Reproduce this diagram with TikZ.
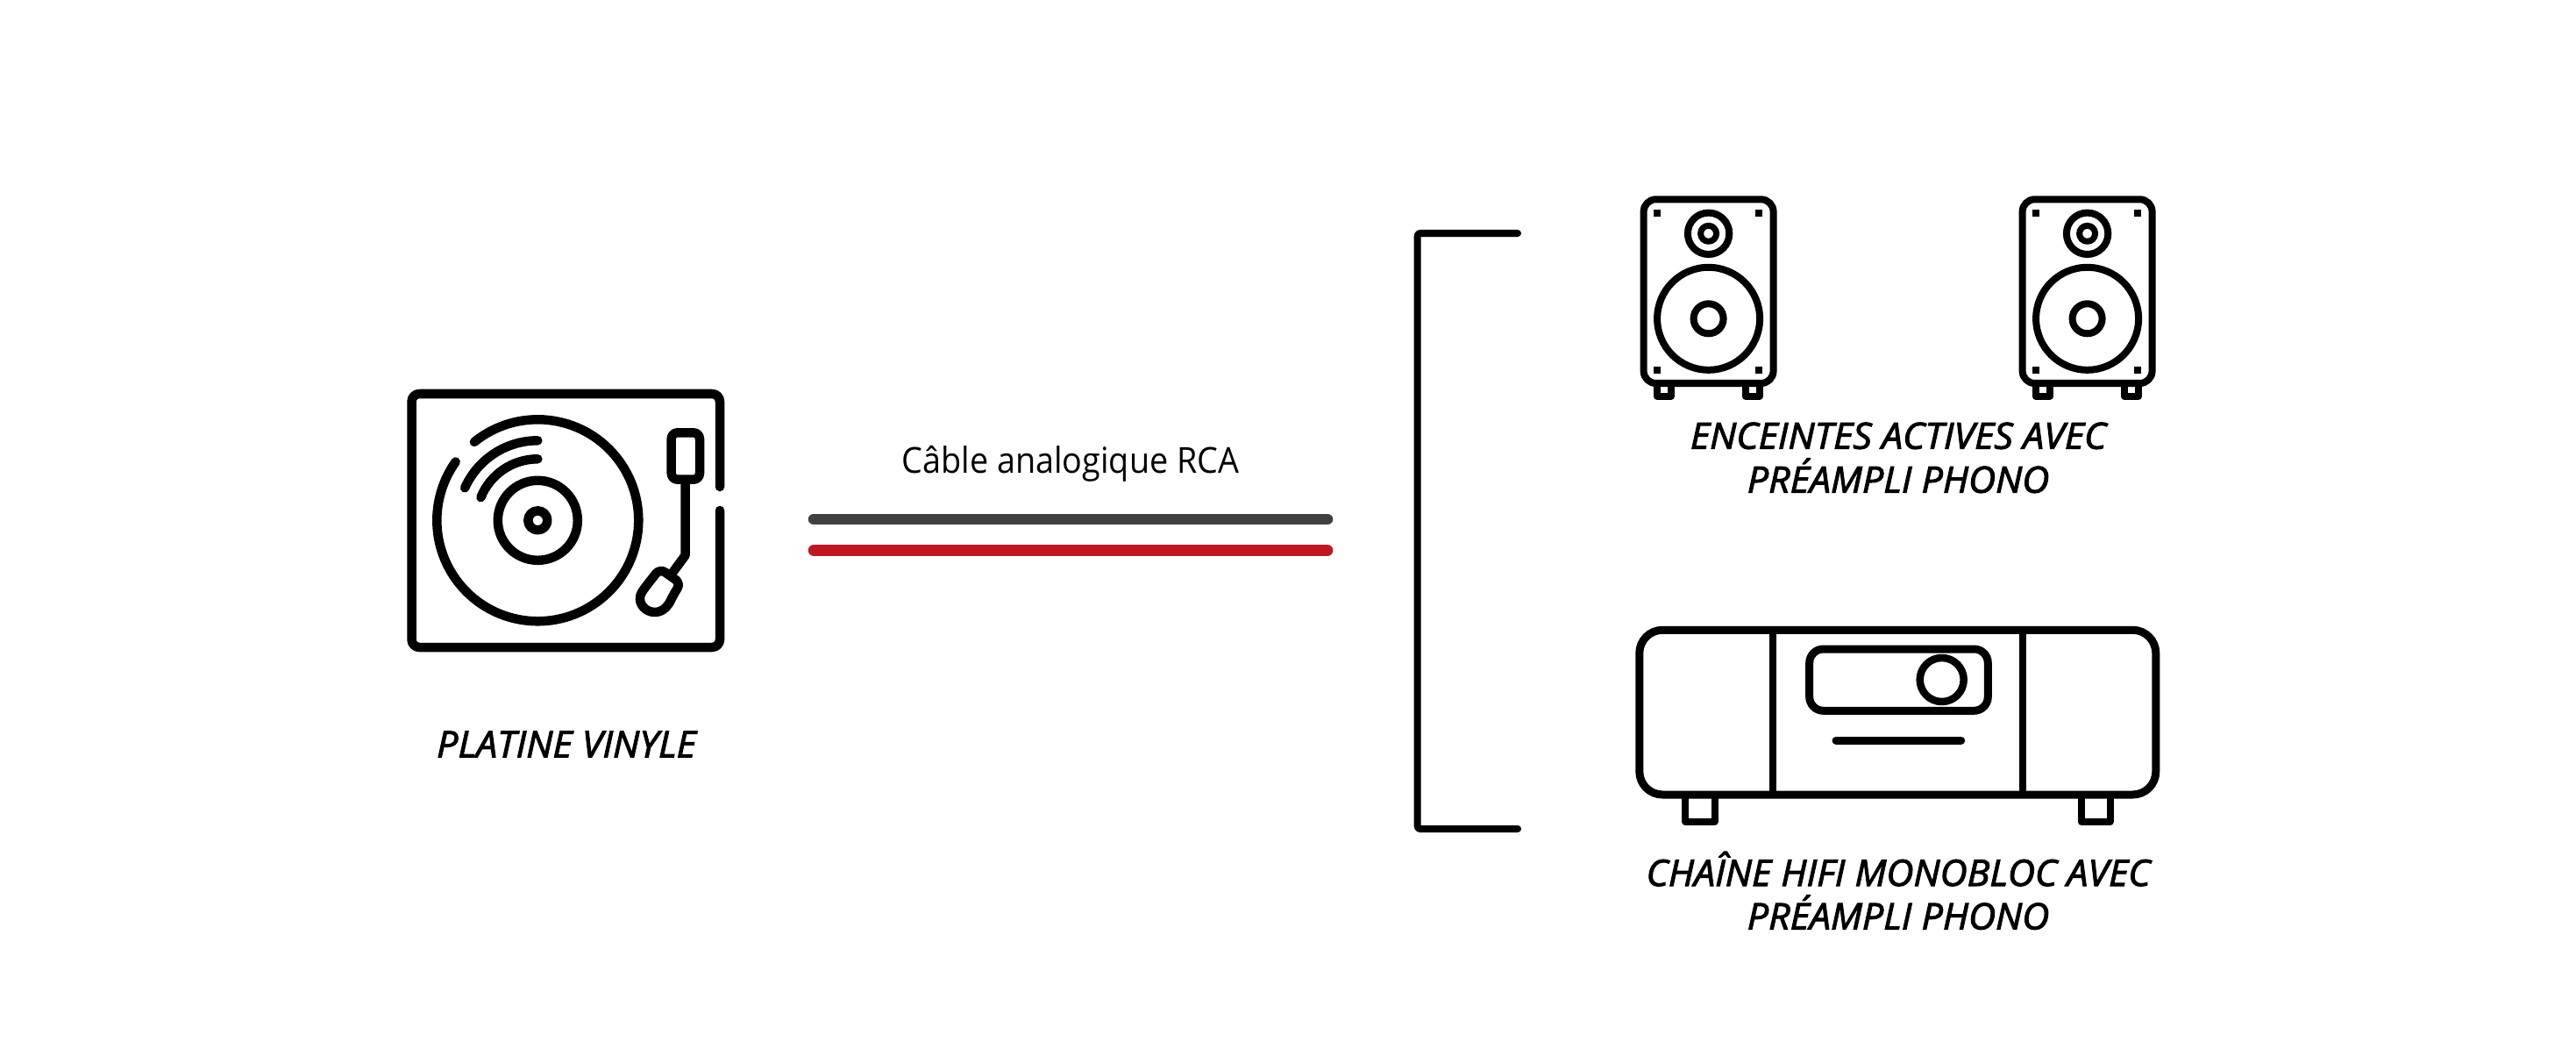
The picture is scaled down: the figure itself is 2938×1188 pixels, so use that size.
\documentclass[tikz,border=0pt]{standalone}
\usepackage{fontspec}
\setmainfont{Open Sans}
\newfontfamily\lblfont[FakeStretch=0.925]{Open Sans}
\newfontfamily\capfont[ItalicFeatures={FakeBold=2.4,FakeStretch=1.035}]{Open Sans}
\definecolor{cabledark}{HTML}{404040}
\definecolor{cablered}{HTML}{BE1823}
\tikzset{
  x=0.01cm,y=-0.01cm,
  w/.style={line width=#1*0.2845pt},
  ink/.style={draw=black,w=#1,line join=round},
  ink/.default=10.5,
  roundline/.style={ink=#1,line cap=round},
  roundline/.default=10.5,
  cable/.style={w=12.5,line cap=round},
  captxt/.style={anchor=base,inner sep=0pt,font=\capfont\itshape\fontsize{11.8pt}{14pt}\selectfont,text=black},
  cabletxt/.style={anchor=base,inner sep=0pt,font=\lblfont\fontsize{11.6pt}{14pt}\selectfont,text=black},
  speaker/.pic={
    \draw[ink=8,rounded corners=4pt] (-74,-136) rectangle (74,73.7);
    \draw[ink=8] (0,-97) circle[radius=23.7];
    \draw[ink=7] (0,-97) circle[radius=9];
    \draw[ink=8] (0,0) circle[radius=58.5];
    \draw[ink=8] (0,0) circle[radius=17];
    \foreach \sx in {-58.4,57.4}\foreach \sy in {-120.3,58.4}
      \fill[black] (\sx-4,\sy-4) rectangle (\sx+4,\sy+4);
    \draw[ink=8] (-58.8,73.7) -- (-58.8,88.7) -- (-42.9,88.7) -- (-42.9,73.7);
    \draw[ink=8] (42.4,73.7) -- (42.4,88.7) -- (57.9,88.7) -- (57.9,73.7);
  }
}
\begin{document}
\begin{tikzpicture}
\useasboundingbox (0,0) rectangle (2938,1188);
% turntable
\draw[roundline,rounded corners=2.5pt] (821,582) -- (821,738) -- (469.5,738) -- (469.5,449) -- (821,449) -- (821,555);
\begin{scope}[shift={(613.3,593.3)}]
  \draw[roundline] (-129:115) arc[start angle=-129,end angle=215.5,radius=115];
  \draw[roundline] (-90:91) arc[start angle=-90,end angle=-156,radius=91];
  \draw[roundline] (-90:70) arc[start angle=-90,end angle=-158,radius=70];
  \draw[ink] (0,0) circle[radius=45.5];
  \draw[ink] (0,0) circle[radius=11];
\end{scope}
\draw[ink,rounded corners=2pt] (765.7,493.3) rectangle (798,546.7);
\draw[ink] (781.7,546.7) -- (781.7,633) -- (767,653);
\draw[ink,rounded corners=2pt] (776.3,665) -- (752.7,648.3) -- (737,668)
  .. controls (720,692) and (752,712) .. (768,678) -- cycle;
% cables
\node[cabletxt] (cablelabel) at (1221,539) {Câble analogique RCA};
\draw[cabledark,cable] (928,592) -- (1514,592);
\draw[cablered,cable] (928,627.5) -- (1514,627.5);
% bracket
\draw[roundline=8,rounded corners=0.8pt] (1731,266) -- (1616.7,266) -- (1616.7,945) -- (1731,945);
% speakers
\pic at (1948.6,363.3) {speaker};
\pic at (2380.6,363.3) {speaker};
% hifi
\draw[ink=9,rounded corners=7.5pt] (1869.8,718.3) rectangle (2458.8,906);
\draw[ink=8] (2022.4,718.3) -- (2022.4,906);
\draw[ink=8] (2306.5,718.3) -- (2306.5,906);
\draw[ink=9,rounded corners=4.5pt] (2063.7,740) rectangle (2267.3,810.3);
\draw[ink=8.5] (2214.7,775) circle[radius=25];
\draw[roundline=9] (2094,844) -- (2236.7,844);
\draw[ink=8] (1922,906) -- (1922,936.7) -- (1955.5,936.7) -- (1955.5,906);
\draw[ink=8] (2373.5,906) -- (2373.5,936.7) -- (2406.5,936.7) -- (2406.5,906);
% captions
\node[captxt] (vinyle) at (646,863.3) {PLATINE VINYLE};
\node[captxt] (enc1) at (2165,511.7) {ENCEINTES ACTIVES AVEC};
\node[captxt] (enc2) at (2165,561.7) {PRÉAMPLI PHONO};
\node[captxt] (hifi1) at (2165,1010) {CHAÎNE HIFI MONOBLOC AVEC};
\node[captxt] (hifi2) at (2165,1059.5) {PRÉAMPLI PHONO};
\end{tikzpicture}
\end{document}
